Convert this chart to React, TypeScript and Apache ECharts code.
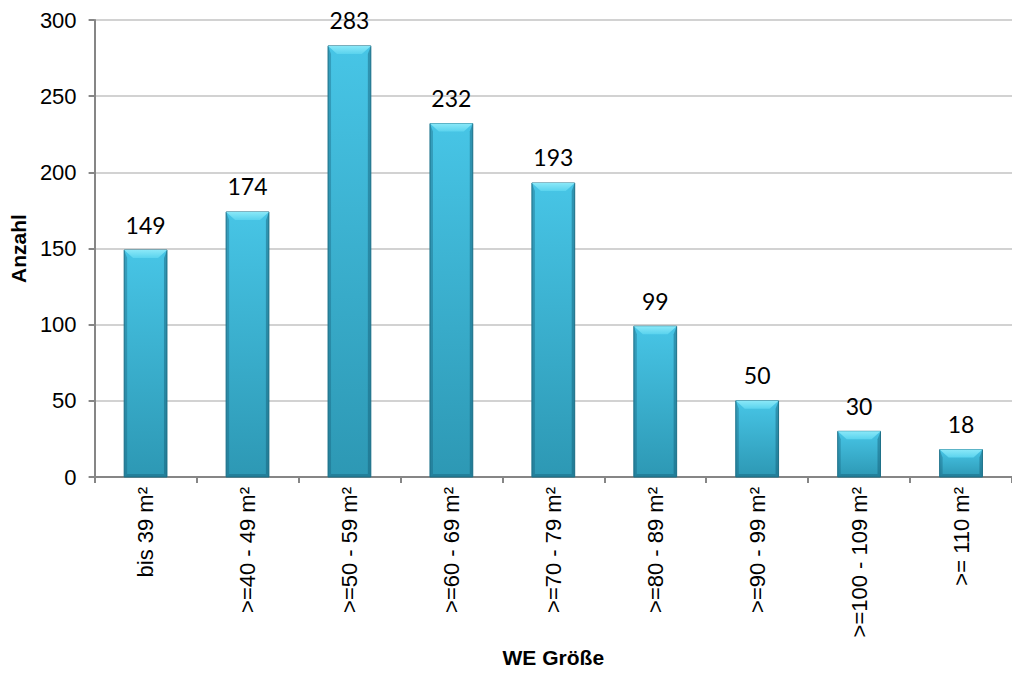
import React, { useEffect, useRef } from "react";
import * as echarts from "echarts";

// Apartment size classes and number of units per class
const categories = [
  "bis 39 m²",
  ">=40 - 49 m²",
  ">=50 - 59 m²",
  ">=60 - 69 m²",
  ">=70 - 79 m²",
  ">=80 - 89 m²",
  ">=90 - 99 m²",
  ">=100 - 109 m²",
  ">= 110 m²",
];
const counts = [149, 174, 283, 232, 193, 99, 50, 30, 18];
const yTicks = { min: 0, max: 300, interval: 50 };

const BAR_RATIO = 0.42;
const SANS = "Liberation Sans";

export default function App() {
  const ref = useRef<HTMLDivElement>(null);

  useEffect(() => {
    if (!ref.current) return;
    const chart = echarts.init(ref.current, undefined, { renderer: "svg" });

    // Bar with a bevelled look: body gradient, darker side/bottom strips, light top facet
    const renderBevelBar = (params: any, api: any) => {
      const idx = api.value(0);
      const val = api.value(1);
      const top = api.coord([idx, val]);
      const bottom = api.coord([idx, 0]);
      const w = api.size([1, 0])[0] * BAR_RATIO;
      const x0 = top[0] - w / 2;
      const x1 = top[0] + w / 2;
      const y0 = top[1];
      const y1 = bottom[1];
      const h = y1 - y0;
      const b = Math.min(8, h / 3);
      const s = 3;
      return {
        type: "group",
        children: [
          {
            type: "rect",
            shape: { x: x0, y: y0, width: w, height: h },
            style: {
              fill: new echarts.graphic.LinearGradient(0, 0, 0, 1, [
                { offset: 0, color: "#47c5e6" },
                { offset: 1, color: "#2d98b4" },
              ]),
              stroke: "#23788f",
              lineWidth: 1,
            },
          },
          {
            type: "polygon",
            shape: { points: [[x0, y0], [x0 + s, y0 + b], [x0 + s, y1 - s], [x0, y1]] },
            style: { fill: "rgba(20,90,115,0.35)" },
          },
          {
            type: "polygon",
            shape: { points: [[x1, y0], [x1 - s, y0 + b], [x1 - s, y1 - s], [x1, y1]] },
            style: { fill: "rgba(20,90,115,0.45)" },
          },
          {
            type: "polygon",
            shape: { points: [[x0, y1], [x0 + s, y1 - s], [x1 - s, y1 - s], [x1, y1]] },
            style: { fill: "rgba(20,90,115,0.4)" },
          },
          {
            type: "polygon",
            shape: { points: [[x0, y0], [x1, y0], [x1 - s * 3, y0 + b], [x0 + s * 3, y0 + b]] },
            style: {
              fill: new echarts.graphic.LinearGradient(0, 0, 0, 1, [
                { offset: 0, color: "#8ae8f8" },
                { offset: 1, color: "#5ad3ee" },
              ]),
            },
          },
        ],
      };
    };

    chart.setOption({
      animation: false,
      backgroundColor: "#ffffff",
      grid: { left: 92, top: 20, width: 925, height: 460 },
      xAxis: {
        type: "category",
        data: categories,
        name: "WE Größe",
        nameLocation: "middle",
        nameGap: 170,
        nameTextStyle: {
          fontFamily: SANS,
          fontSize: 21,
          fontWeight: "bold",
          color: "#000",
        },
        axisLine: { lineStyle: { color: "#868686", width: 2 } },
        axisTick: { show: true, length: 6, lineStyle: { color: "#868686", width: 2 } },
        axisLabel: {
          rotate: 90,
          margin: 10,
          interval: 0,
          fontFamily: SANS,
          fontSize: 22,
          color: "#000",
        },
      },
      yAxis: {
        type: "value",
        min: yTicks.min,
        max: yTicks.max,
        interval: yTicks.interval,
        name: "Anzahl",
        nameLocation: "middle",
        nameGap: 64,
        nameRotate: 90,
        nameTextStyle: {
          fontFamily: SANS,
          fontSize: 21,
          fontWeight: "bold",
          color: "#000",
        },
        axisLine: { show: true, lineStyle: { color: "#868686", width: 2 } },
        axisTick: { show: true, length: 6, lineStyle: { color: "#868686", width: 2 } },
        axisLabel: {
          margin: 18,
          fontFamily: SANS,
          fontSize: 22,
          color: "#000",
        },
        splitLine: { lineStyle: { color: "#c3c3c3", width: 1.5 } },
      },
      series: [
        {
          type: "bar",
          data: counts,
          barWidth: BAR_RATIO * 100 + "%",
          itemStyle: { color: "rgba(0,0,0,0)" },
          label: {
            show: true,
            position: "top",
            distance: 14,
            fontFamily: "Lato",
            fontSize: 23,
            color: "#000",
          },
          z: 1,
        },
        {
          type: "custom",
          renderItem: renderBevelBar,
          data: counts.map((v, i) => [i, v]),
          encode: { x: 0, y: 1 },
          z: 2,
        },
      ],
    });

    return () => chart.dispose();
  }, []);

  return (
    <div
      ref={ref}
      style={{ position: "absolute", left: 0, top: 0, width: 1012, height: 673 }}
    />
  );
}
